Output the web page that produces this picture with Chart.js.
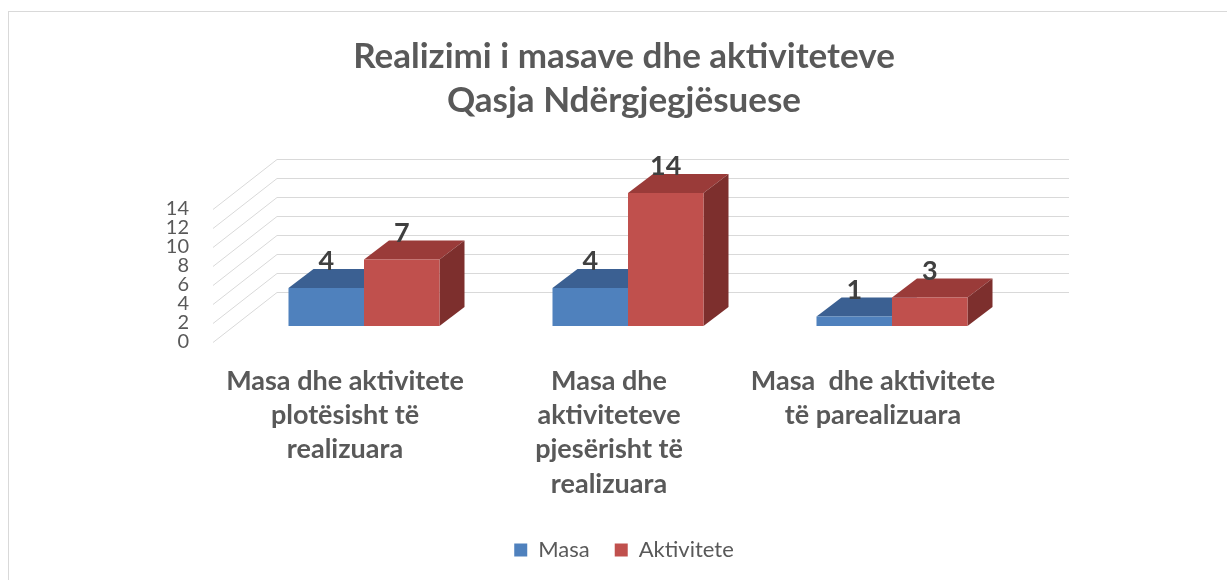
<!DOCTYPE html>
<html>
<head>
<meta charset="utf-8">
<script src="https://cdn.jsdelivr.net/npm/chart.js@4/dist/chart.umd.min.js"></script>
<style>
  html, body { margin: 0; padding: 0; background: #fff; width: 1227px; height: 580px; overflow: hidden; }
  #frame { position: absolute; left: 8px; top: 11px; width: 1230px; height: 600px; border: 1px solid #d9d9d9; background: #fff; }
  #c { position: absolute; left: 0; top: 0; }
</style>
</head>
<body>
<div id="frame"><canvas id="c" width="1230" height="568"></canvas></div>
<script>
// ---- data ----
const chartTitle = ["Realizimi i masave dhe aktiviteteve", "Qasja Ndërgjegjësuese"];
const categories = [
  ["Masa dhe aktivitete", "plotësisht të", "realizuara"],
  ["Masa dhe", "aktiviteteve", "pjesërisht të", "realizuara"],
  ["Masa  dhe aktivitete", "të parealizuara"]
];
const seriesNames = ["Masa", "Aktivitete"];
const masaValues = [4, 4, 1];
const aktiviteteValues = [7, 14, 3];
const yMin = 0, yMax = 14, yStep = 2;

// ---- style ----
const FONT = "Lato";
const frontColors = ["#4f81bd", "#c0504d"];
const topColors = ["#3b6092", "#9a3b39"];
const sideColors = ["#2f5079", "#7d2f2d"];
const WALL = { dx: 64, dy: -50 };      // depth of the whole floor
const BAR_SHIFT = { dx: 19, dy: -16 }; // bar front plane behind floor front
const BAR_DEPTH = { dx: 25, dy: -19 };

const threeD = {
  id: "threeD",
  beforeDatasetsDraw(chart) {
    const ctx = chart.ctx;
    const ys = chart.scales.y;
    const area = chart.chartArea;
    ctx.save();
    ctx.strokeStyle = "#d9d9d9";
    ctx.lineWidth = 1;
    for (let v = yMin; v <= yMax; v += yStep) {
      const py = Math.round(ys.getPixelForValue(v)) + 0.5;
      ctx.beginPath();
      ctx.moveTo(area.left, py);
      ctx.lineTo(area.left + WALL.dx, py + WALL.dy);
      ctx.lineTo(area.right + WALL.dx, py + WALL.dy);
      ctx.stroke();
    }
    ctx.restore();
    // shift into the bar plane; Chart.js draws the front faces inside this translation
    ctx.save();
    ctx.translate(BAR_SHIFT.dx, BAR_SHIFT.dy);
    const metas = [chart.getDatasetMeta(0), chart.getDatasetMeta(1)];
    const n = metas[0].data.length;
    for (let i = 0; i < n; i++) {
      metas.forEach((meta, di) => {
        const el = meta.data[i];
        const l = el.x - el.width / 2, r = el.x + el.width / 2, t = el.y, b = el.base;
        const dx = BAR_DEPTH.dx, dy = BAR_DEPTH.dy;
        ctx.fillStyle = topColors[di];
        ctx.beginPath();
        ctx.moveTo(l, t); ctx.lineTo(r, t); ctx.lineTo(r + dx, t + dy); ctx.lineTo(l + dx, t + dy);
        ctx.closePath(); ctx.fill();
        ctx.fillStyle = sideColors[di];
        ctx.beginPath();
        ctx.moveTo(r, t); ctx.lineTo(r + dx, t + dy); ctx.lineTo(r + dx, b + dy); ctx.lineTo(r, b);
        ctx.closePath(); ctx.fill();
      });
    }
  },
  afterDatasetsDraw(chart) {
    const ctx = chart.ctx;
    ctx.font = "bold 27px " + FONT;
    ctx.fillStyle = "#404040";
    ctx.textAlign = "center";
    ctx.textBaseline = "alphabetic";
    chart.data.datasets.forEach((ds, di) => {
      chart.getDatasetMeta(di).data.forEach((el, i) => {
        ctx.fillText(String(ds.data[i]), el.x, el.y + BAR_DEPTH.dy + 1);
      });
    });
    ctx.restore();
  }
};

new Chart(document.getElementById("c"), {
  type: "bar",
  data: {
    labels: categories,
    datasets: [
      { label: seriesNames[0], data: masaValues, backgroundColor: frontColors[0], borderWidth: 0, clip: false },
      { label: seriesNames[1], data: aktiviteteValues, backgroundColor: frontColors[1], borderWidth: 0, clip: false }
    ]
  },
  options: {
    responsive: false,
    animation: false,
    events: [],
    categoryPercentage: 0.572,
    barPercentage: 1.0,
    layout: { padding: { left: 0, right: 0, top: 0, bottom: 9 } },
    scales: {
      x: {
        grid: { display: false, drawTicks: false },
        border: { display: false },
        ticks: {
          color: "#595959",
          font: { family: FONT, size: 27, weight: "bold", lineHeight: 1.27 },
          padding: 22,
          maxRotation: 0,
          autoSkip: false
        },
        afterFit(scale) { scale.height = 172; }
      },
      y: {
        position: "left",
        min: yMin, max: yMax,
        grid: { display: false, drawTicks: false },
        border: { display: false },
        ticks: {
          stepSize: yStep,
          autoSkip: false,
          color: "#595959",
          font: { family: FONT, size: 20, lineHeight: 1 },
          padding: 24
        },
        afterFit(scale) { scale.width = 204; }
      },
      yRight: {
        type: "linear",
        position: "right",
        display: true,
        grid: { display: false, drawTicks: false },
        border: { display: false },
        ticks: { display: false },
        afterFit(scale) { scale.width = 234; }
      }
    },
    plugins: {
      title: {
        display: true,
        text: chartTitle,
        color: "#595959",
        font: { family: FONT, size: 35, weight: "bold", lineHeight: "44px" },
        padding: { top: 23, bottom: 86 }
      },
      legend: {
        display: true,
        position: "bottom",
        labels: {
          color: "#595959",
          font: { family: FONT, size: 22 },
          boxWidth: 13,
          boxHeight: 13,
          padding: 25
        }
      },
      tooltip: { enabled: false }
    }
  },
  plugins: [threeD]
});
</script>
</body>
</html>
